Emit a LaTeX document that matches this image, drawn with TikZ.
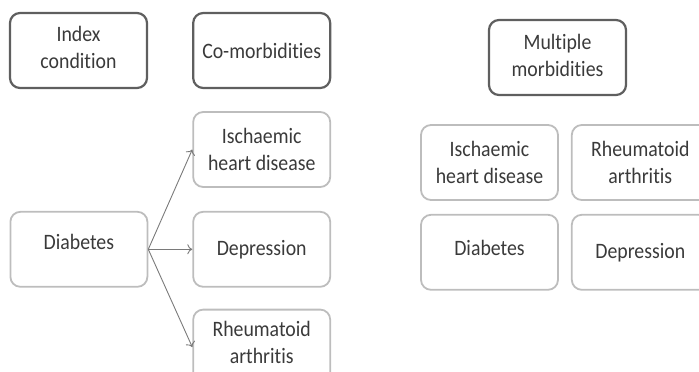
\documentclass[tikz,border=0pt]{standalone}
\usepackage{fontspec}
\setmainfont{Carlito}[Ligatures=NoCommon, FakeStretch=0.9]
\usepackage{tikz}
\usetikzlibrary{arrows.meta,positioning}

\definecolor{boxdark}{HTML}{5F5F5F}
\definecolor{boxlight}{HTML}{BDBDBD}
\definecolor{txtgrey}{HTML}{3A3A3A}
\definecolor{arrgrey}{HTML}{7A7A7A}

\begin{document}
\begin{tikzpicture}[x=1pt, y=1pt, node distance=44pt]
    % Define styles
    \tikzstyle{cond} = [rectangle, rounded corners=10pt, draw=boxlight, line width=1.8pt,
        minimum width=137pt, minimum height=75pt, align=center, text=txtgrey,
        font=\fontsize{22}{27}\selectfont, inner sep=2pt]
    \tikzstyle{head} = [cond, draw=boxdark, line width=2.2pt]
    \tikzstyle{arrow} = [-{To[length=5pt,width=10pt]}, draw=arrgrey, line width=0.9pt]

    \useasboundingbox (0,0) rectangle (699,-372);

    % Left part: index condition and its co-morbidities
    \node[head, text depth=6pt] (index) at (78.5,-50.5) {Index\\condition};
    \node[head, right=44pt of index] (comorb) {Co-morbidities};
    \node[cond, below=22pt of comorb] (ihd) {Ischaemic\\heart disease};
    \node[cond, below=23pt of ihd] (dep) {Depression};
    \node[cond, below=21pt of dep, text depth=9pt] (ra) {Rheumatoid\\arthritis};
    \node[cond, left=44pt of dep, text depth=14pt] (diab) {Diabetes};

    % Arrows from the index condition
    \draw[arrow] (diab.east) -- (ihd.west);
    \draw[arrow] (diab.east) -- (dep.west);
    \draw[arrow] (diab.east) -- (ra.west);

    % Right part: multiple morbidities
    \node[head, text depth=5pt] (multi) at (557.5,-57.5) {Multiple\\morbidities};
    \node[cond] (ihdb) at (489.5,-162.5) {Ischaemic\\heart disease};
    \node[cond, right=12pt of ihdb] (rab) {Rheumatoid\\arthritis};
    \node[cond, below=13pt of ihdb, text depth=8pt] (diabb) {Diabetes};
    \node[cond, below=13pt of rab] (depb) {Depression};
\end{tikzpicture}
\end{document}
